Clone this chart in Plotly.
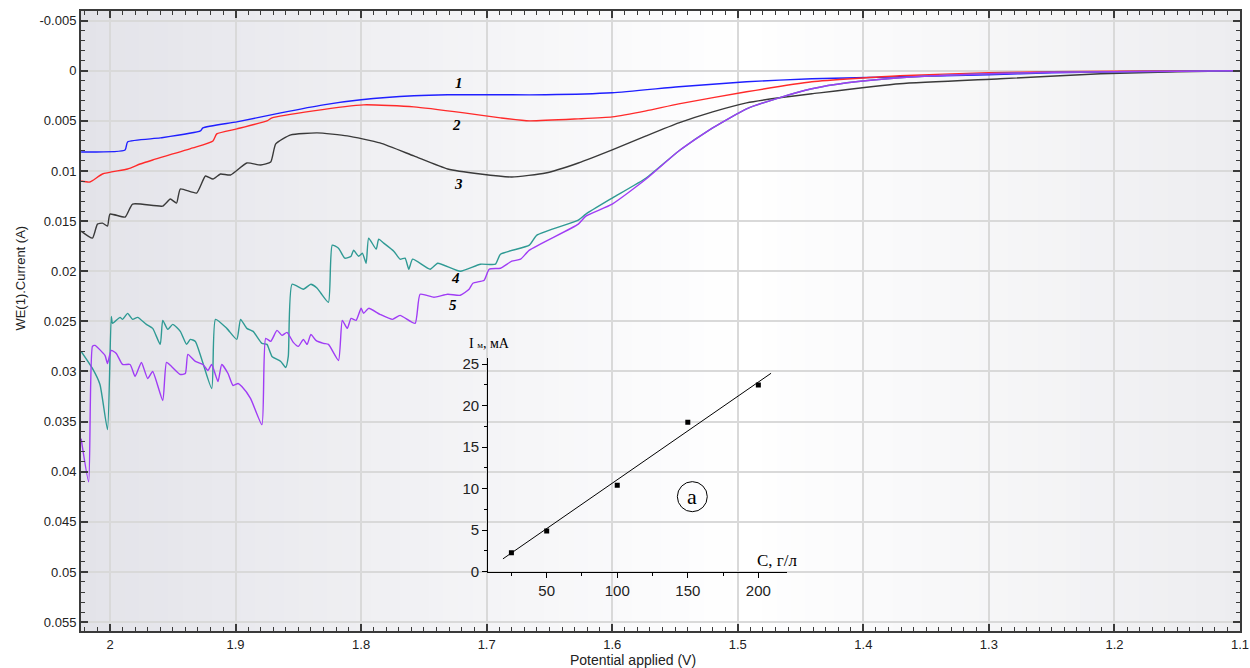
import plotly.graph_objects as go

# ---------------- data ----------------
# curve 1 (blue)
x1 = [2.023, 1.988, 1.986, 1.960, 1.928, 1.926, 1.899, 1.864, 1.83, 1.80, 1.758, 1.731,
      1.706, 1.68, 1.653, 1.60, 1.547, 1.493, 1.441, 1.371, 1.30, 1.25, 1.20, 1.15, 1.10]
y1 = [0.0081, 0.0079, 0.0071, 0.0067, 0.0060, 0.0057, 0.0051, 0.0042, 0.0034, 0.0029, 0.0025, 0.0024,
      0.0024, 0.0024, 0.0024, 0.0022, 0.0016, 0.0011, 0.0008, 0.0006, 0.0004, 0.0002, 0.0001, 0.00005, 0.0]

# curve 2 (red)
x2 = [2.023, 2.016, 2.006, 1.986, 1.976, 1.966, 1.934, 1.918, 1.915, 1.899, 1.875, 1.871,
      1.838, 1.798, 1.758, 1.718, 1.689, 1.666, 1.627, 1.60, 1.573, 1.547, 1.493, 1.441,
      1.371, 1.30, 1.25, 1.20, 1.15, 1.10]
y2 = [0.0110, 0.0111, 0.0103, 0.0098, 0.0093, 0.0089, 0.0077, 0.0070, 0.0063, 0.0058, 0.0050, 0.0047,
      0.0040, 0.0034, 0.0036, 0.0042, 0.0047, 0.0050, 0.0048, 0.0046, 0.0040, 0.0033, 0.0021, 0.0011,
      0.0005, 0.0002, 0.0001, 0.00005, 0.0, 0.0]

# curve 3 (black)
x3 = [2.023, 2.014, 2.010, 2.006, 2.002, 2.000, 1.988, 1.982, 1.958, 1.952, 1.947, 1.944,
      1.931, 1.924, 1.918, 1.912, 1.904, 1.891, 1.880, 1.872, 1.868, 1.856, 1.835, 1.811,
      1.785, 1.758, 1.731, 1.705, 1.68, 1.653, 1.627, 1.60, 1.573, 1.547, 1.520, 1.493,
      1.467, 1.441, 1.371, 1.291, 1.211, 1.15, 1.10]
y3 = [0.0160, 0.0167, 0.0153, 0.0152, 0.0155, 0.0143, 0.0146, 0.0133, 0.0135, 0.0128, 0.0132, 0.0118,
      0.0122, 0.0105, 0.0108, 0.0103, 0.0104, 0.0092, 0.0094, 0.0091, 0.0073, 0.0064, 0.0062, 0.0065,
      0.0072, 0.0085, 0.0098, 0.0103, 0.0106, 0.0102, 0.0092, 0.0079, 0.0065, 0.0052, 0.0041, 0.0032,
      0.0027, 0.0023, 0.0013, 0.0008, 0.0003, 0.0001, 0.0]

# curve 4 (teal)
x4 = [2.023, 2.014, 2.008, 2.002, 1.999, 1.998, 1.992, 1.990, 1.986, 1.982, 1.978, 1.971,
      1.966, 1.960, 1.958, 1.954, 1.950, 1.944, 1.939, 1.936, 1.932, 1.919, 1.916, 1.907,
      1.899, 1.896, 1.891, 1.886, 1.879, 1.875, 1.871, 1.864, 1.860, 1.858, 1.855, 1.846,
      1.840, 1.835, 1.832, 1.826, 1.823, 1.818, 1.813, 1.808, 1.806, 1.802, 1.799, 1.796,
      1.794, 1.788, 1.786, 1.782, 1.774, 1.769, 1.765, 1.762, 1.759, 1.745, 1.739, 1.721,
      1.705, 1.693, 1.689, 1.666, 1.660, 1.627, 1.621, 1.60, 1.573, 1.547, 1.520, 1.493,
      1.467, 1.441, 1.413, 1.371, 1.30, 1.25, 1.20, 1.15, 1.10]
y4 = [0.0280, 0.0297, 0.0313, 0.0358, 0.0245, 0.0252, 0.0246, 0.0248, 0.0242, 0.0248, 0.0246, 0.0253,
      0.0257, 0.0273, 0.0249, 0.0258, 0.0253, 0.0260, 0.0273, 0.0268, 0.0270, 0.0317, 0.0248, 0.0257,
      0.0268, 0.0248, 0.0257, 0.0260, 0.0272, 0.0273, 0.0285, 0.0290, 0.0296, 0.0285, 0.0213, 0.0218,
      0.0213, 0.0217, 0.0222, 0.0231, 0.0174, 0.0177, 0.0187, 0.0185, 0.0179, 0.0185, 0.0182, 0.0192,
      0.0167, 0.0178, 0.0168, 0.0172, 0.0180, 0.0188, 0.0187, 0.0198, 0.0188, 0.0198, 0.0192, 0.0200,
      0.0193, 0.0193, 0.0183, 0.0174, 0.0164, 0.0149, 0.0143, 0.0127, 0.0107, 0.0080, 0.0057, 0.0038,
      0.0027, 0.0018, 0.0012, 0.0007, 0.0003, 0.00015, 0.0001, 0.00005, 0.0]

# curve 5 (purple)
x5 = [2.023, 2.017, 2.014, 2.012, 2.004, 2.002, 1.999, 1.995, 1.990, 1.984, 1.980, 1.975,
      1.970, 1.966, 1.958, 1.955, 1.951, 1.944, 1.940, 1.938, 1.932, 1.926, 1.922, 1.919,
      1.914, 1.911, 1.906, 1.902, 1.898, 1.895, 1.888, 1.879, 1.876, 1.872, 1.867, 1.863,
      1.859, 1.854, 1.850, 1.846, 1.843, 1.840, 1.836, 1.830, 1.826, 1.818, 1.815, 1.811,
      1.808, 1.804, 1.800, 1.798, 1.794, 1.785, 1.775, 1.769, 1.757, 1.753, 1.742, 1.731,
      1.721, 1.714, 1.711, 1.702, 1.698, 1.689, 1.680, 1.673, 1.666, 1.627, 1.621, 1.60,
      1.573, 1.547, 1.520, 1.493, 1.467, 1.441, 1.413, 1.371, 1.30, 1.25, 1.20, 1.15, 1.10]
y5 = [0.0367, 0.0410, 0.0275, 0.0274, 0.0284, 0.0292, 0.0279, 0.0282, 0.0293, 0.0293, 0.0305, 0.0291,
      0.0307, 0.0300, 0.0329, 0.0291, 0.0295, 0.0303, 0.0302, 0.0283, 0.0290, 0.0293, 0.0299, 0.0293,
      0.0310, 0.0293, 0.0302, 0.0314, 0.0312, 0.0315, 0.0327, 0.0353, 0.0267, 0.0270, 0.0259, 0.0264,
      0.0261, 0.0271, 0.0275, 0.0268, 0.0273, 0.0263, 0.0269, 0.0272, 0.0273, 0.0289, 0.0249, 0.0257,
      0.0247, 0.0249, 0.0237, 0.0242, 0.0237, 0.0243, 0.0248, 0.0244, 0.0252, 0.0223, 0.0226, 0.0223,
      0.0224, 0.0218, 0.0212, 0.0209, 0.0198, 0.0197, 0.0190, 0.0188, 0.0179, 0.0153, 0.0145, 0.0133,
      0.0108, 0.0080, 0.0057, 0.0038, 0.0027, 0.0018, 0.0012, 0.0007, 0.0003, 0.00015, 0.0001, 0.00005, 0.0]

curve_labels = ["1", "2", "3", "4", "5"]
label_x = [1.722, 1.7244, 1.7228, 1.7252, 1.727]
label_y = [0.0012, 0.0054, 0.0113, 0.0207, 0.0234]

# main axis ticks
x_ticks = [2.0, 1.9, 1.8, 1.7, 1.6, 1.5, 1.4, 1.3, 1.2, 1.1]
x_ticktext = ["2", "1.9", "1.8", "1.7", "1.6", "1.5", "1.4", "1.3", "1.2", "1.1"]
y_ticks = [-0.005, 0, 0.005, 0.01, 0.015, 0.02, 0.025, 0.03, 0.035, 0.04, 0.045, 0.05, 0.055]
y_ticktext = ["-0.005", "0", "0.005", "0.01", "0.015", "0.02", "0.025", "0.03", "0.035",
              "0.04", "0.045", "0.05", "0.055"]

# inset data
inset_c = [25, 50, 100, 150, 200]
inset_i = [2.3, 4.9, 10.4, 18.0, 22.5]
fit_c = [19, 209]
fit_i = [1.55, 23.9]
inset_xticks = [50, 100, 150, 200]
inset_yticks = [0, 5, 10, 15, 20, 25]

# ---------------- styling ----------------
colors = ["#1f1fff", "#ff2a2a", "#3a3a3a", "#2f9a94", "#a03cf5"]
FONT = "Liberation Sans, Arial, sans-serif"
SERIF = "Liberation Serif, Times New Roman, serif"
AX = "#3a3a3a"

fig = go.Figure()

for xs, ys, c in [(x1, y1, colors[0]), (x2, y2, colors[1]), (x3, y3, colors[2]),
                  (x4, y4, colors[3]), (x5, y5, colors[4])]:
    fig.add_trace(go.Scatter(x=xs, y=ys, mode="lines",
                             line=dict(color=c, width=1.4, shape="spline", smoothing=0.5),
                             showlegend=False, hoverinfo="skip"))

# inset
fig.add_trace(go.Scatter(x=fit_c, y=fit_i, mode="lines", line=dict(color="black", width=1),
                         xaxis="x2", yaxis="y2", showlegend=False, hoverinfo="skip"))
fig.add_trace(go.Scatter(x=inset_c, y=inset_i, mode="markers",
                         marker=dict(symbol="square", size=5, color="black"),
                         xaxis="x2", yaxis="y2", showlegend=False, hoverinfo="skip"))

# gradient background strips (paper coords, below everything)
def lerp(a, b, t):
    return tuple(round(a[i] + (b[i] - a[i]) * t) for i in range(3))

left_c = (227, 227, 233)
mid_c = (255, 255, 255)
right_c = (237, 237, 240)
peak = 0.57
N = 80
shapes = []
for k in range(N):
    f0, f1 = k / N, (k + 1) / N
    fm = (f0 + f1) / 2
    if fm <= peak:
        col = lerp(left_c, mid_c, fm / peak)
    else:
        col = lerp(mid_c, right_c, (fm - peak) / (1 - peak))
    shapes.append(dict(type="rect", xref="paper", yref="paper", x0=f0, x1=min(1, f1 + 0.002), y0=0, y1=1,
                       fillcolor="rgb(%d,%d,%d)" % col, line=dict(width=0), layer="below"))

# circled "a" in inset
shapes.append(dict(type="circle", xref="x2", yref="y2", x0=142.6, x1=163.8, y0=7.23, y1=10.85,
                   line=dict(color="black", width=1), layer="above"))

annotations = []
for t, lx, ly in zip(curve_labels, label_x, label_y):
    annotations.append(dict(x=lx, y=ly, xref="x", yref="y", text="<b><i>%s</i></b>" % t,
                            showarrow=False, font=dict(family=SERIF, size=15, color="black")))

annotations += [
    dict(x=153.2, y=9.04, xref="x2", yref="y2", text="a", showarrow=False,
         font=dict(family=SERIF, size=22, color="black")),
    dict(x=213.6, y=1.41, xref="x2", yref="y2", text="C, г/л", showarrow=False,
         font=dict(family=SERIF, size=17, color="black")),
    dict(x=0.3525, y=0.4645, xref="paper", yref="paper",
         text="I <span style='font-size:9px'>м</span>, мА", showarrow=False,
         xanchor="center", yanchor="middle",
         font=dict(family=SERIF, size=14, color="black")),
    dict(x=0.4763, y=-0.047, xref="paper", yref="paper", text="Potential applied (V)",
         showarrow=False, yanchor="middle", font=dict(family=FONT, size=14, color="#222")),
    dict(x=-0.0526, y=0.5685, xref="paper", yref="paper", text="WE(1).Current (A)",
         showarrow=False, textangle=-90, xanchor="center", yanchor="middle",
         font=dict(family=FONT, size=13, color="#222")),
]

fig.update_layout(
    width=1250, height=668,
    margin=dict(l=81, r=10, t=11, b=37, autoexpand=False),
    paper_bgcolor="white",
    plot_bgcolor="rgba(0,0,0,0)",
    shapes=shapes,
    annotations=annotations,
    xaxis=dict(
        range=[2.0231, 1.1], tickmode="array", tickvals=x_ticks, ticktext=x_ticktext,
        automargin=False,
        showgrid=True, gridcolor="#d9d9d9", gridwidth=2, zeroline=False,
        showline=True, linecolor=AX, linewidth=2, mirror="allticks",
        ticks="inside", ticklen=7, tickwidth=1.5, tickcolor=AX,
        minor=dict(ticks="inside", ticklen=4, tickwidth=1.2, tickcolor=AX, dtick=0.01, tick0=1.1,
                   showgrid=False),
        tickfont=dict(family=FONT, size=13, color="#222"),
    ),
    yaxis=dict(
        range=[0.05589, -0.00596], tickmode="array", tickvals=y_ticks, ticktext=y_ticktext,
        automargin=False,
        showgrid=True, gridcolor="#d9d9d9", gridwidth=2, zeroline=False,
        showline=True, linecolor=AX, linewidth=2, mirror="allticks",
        ticks="inside", ticklen=7, tickwidth=1.5, tickcolor=AX,
        minor=dict(ticks="inside", ticklen=4, tickwidth=1.2, tickcolor=AX, dtick=0.001, tick0=0,
                   showgrid=False),
        tickfont=dict(family=FONT, size=13, color="#222"),
    ),
    xaxis2=dict(
        domain=[0.3514, 0.6089], anchor="y2", range=[8.6, 220.1],
        tickmode="array", tickvals=inset_xticks, automargin=False,
        showgrid=False, zeroline=False, showline=True, linecolor="black", linewidth=1.2,
        ticks="outside", ticklen=5, tickwidth=1, tickcolor="black",
        minor=dict(ticks="outside", ticklen=3, tickwidth=1, tickcolor="black", dtick=25, tick0=0),
        tickfont=dict(family=FONT, size=15, color="#222"),
    ),
    yaxis2=dict(
        domain=[0.0956, 0.4398], anchor="x2", range=[0, 25.7],
        tickmode="array", tickvals=inset_yticks, automargin=False,
        showgrid=False, zeroline=False, showline=True, linecolor="black", linewidth=1.2,
        ticks="outside", ticklen=5, tickwidth=1, tickcolor="black",
        minor=dict(ticks="outside", ticklen=3, tickwidth=1, tickcolor="black", dtick=2.5, tick0=0),
        tickfont=dict(family=FONT, size=15, color="#222"),
    ),
)

fig.write_html("out.html", config={"displayModeBar": False},
               post_script="document.body.style.margin='0';document.body.style.overflow='hidden';")
